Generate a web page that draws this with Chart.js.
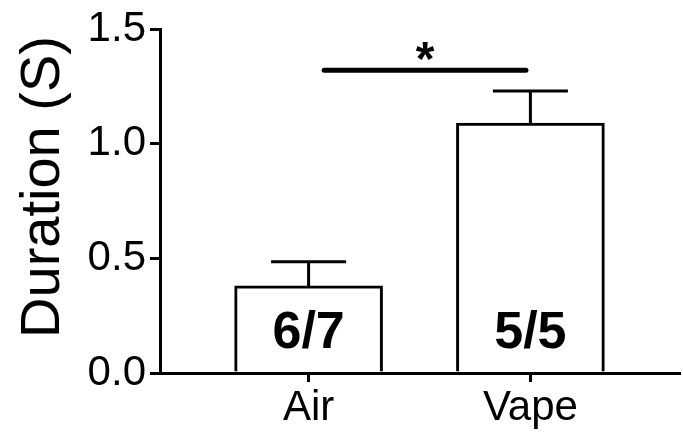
<!DOCTYPE html>
<html>
<head>
<meta charset="utf-8">
<title>Duration</title>
<script src="https://cdn.jsdelivr.net/npm/chart.js@4.4.1/dist/chart.umd.min.js"></script>
<style>
  body { margin: 0; background: #fff; }
  #wrap { width: 683px; height: 435px; }
</style>
</head>
<body>
<div id="wrap"><canvas id="durationChart"></canvas></div>
<script>
// groups and where they sit on the x axis
const groups = ["Air", "Vape"];
const groupPos = [1, 2];
// mean duration (s) and SEM for each group
const means = [0.38, 1.09];
const sems = [0.105, 0.14];
// responders / total, printed inside each bar
const counts = ["6/7", "5/5"];
// y axis ticks and title
const yTicks = [0, 0.5, 1.0, 1.5];
const yTitle = "Duration (S)";
// significance line between the groups
const sigX = [1.07, 1.98];
const sigY = 1.321;
const sigLabel = "*";

const FONT = '"Liberation Sans", Arial, Helvetica, sans-serif';

// error bars, n labels, significance mark and the y title
const extrasPlugin = {
  id: "extras",
  afterDatasetsDraw(chart) {
    const ctx = chart.ctx;
    const xs = chart.scales.x;
    const ys = chart.scales.y;
    ctx.save();
    ctx.strokeStyle = "#000";
    ctx.fillStyle = "#000";
    ctx.lineWidth = 3;

    groupPos.forEach((g, i) => {
      const x = xs.getPixelForValue(g);
      const yTop = ys.getPixelForValue(means[i]);
      const yErr = ys.getPixelForValue(means[i] + sems[i]);
      ctx.beginPath();
      ctx.moveTo(x, yTop);
      ctx.lineTo(x, yErr);
      ctx.moveTo(x - 37.5, yErr);
      ctx.lineTo(x + 37.5, yErr);
      ctx.stroke();

      ctx.font = "bold 52px " + FONT;
      ctx.textAlign = "center";
      ctx.textBaseline = "alphabetic";
      ctx.fillText(counts[i], x, chart.chartArea.bottom - 25);
    });

    // === Significance ===
    const x1 = xs.getPixelForValue(sigX[0]);
    const x2 = xs.getPixelForValue(sigX[1]);
    const y = ys.getPixelForValue(sigY);
    ctx.lineWidth = 5;
    ctx.lineCap = "round";
    ctx.beginPath();
    ctx.moveTo(x1, y);
    ctx.lineTo(x2, y);
    ctx.stroke();

    ctx.font = "bold 48px " + FONT;
    ctx.textAlign = "center";
    ctx.textBaseline = "alphabetic";
    ctx.fillText(sigLabel, (x1 + x2) / 2, y + 5);

    // === Y title (sits a little above the axis middle in the original) ===
    ctx.translate(44, 187);
    ctx.rotate(-Math.PI / 2);
    ctx.font = "56px " + FONT;
    ctx.textBaseline = "middle";
    ctx.fillText(yTitle, 0, 0);
    ctx.restore();
  }
};

const axisGrid = (len) => ({
  display: true,
  drawOnChartArea: false,
  drawTicks: true,
  offset: false,
  tickLength: len,
  lineWidth: 3,
  color: "#000"
});

const ctx = document.getElementById("durationChart").getContext("2d");
new Chart(ctx, {
  type: "bar",
  data: {
    datasets: [{
      data: groupPos.map((x, i) => ({ x: x, y: means[i] })),
      backgroundColor: "#fff",
      borderColor: "#000",
      borderWidth: 3,
      borderSkipped: "start",
      barThickness: 148
    }]
  },
  options: {
    responsive: true,
    maintainAspectRatio: false,
    animation: false,
    events: [],
    layout: { padding: { top: 26, right: 4, left: 0, bottom: 0 } },
    plugins: {
      legend: { display: false },
      tooltip: { enabled: false }
    },
    scales: {
      x: {
        type: "linear",
        offset: false,
        z: 1,
        min: 0.33,
        max: 2.67,
        afterBuildTicks: axis => { axis.ticks = groupPos.map(v => ({ value: v })); },
        afterFit: s => { s.height = 62; },
        ticks: {
          callback: v => groups[groupPos.indexOf(v)],
          font: { family: FONT, size: 42 },
          color: "#000",
          padding: 1,
          maxRotation: 0,
          autoSkip: false
        },
        grid: axisGrid(9),
        border: { display: true, width: 3, color: "#000" }
      },
      y: {
        min: 0,
        max: 1.5,
        afterBuildTicks: axis => { axis.ticks = yTicks.map(v => ({ value: v })); },
        afterFit: s => { s.width = 160; },
        ticks: {
          callback: v => v.toFixed(1),
          font: { family: FONT, size: 42 },
          color: "#000",
          padding: 4
        },
        grid: axisGrid(10),
        border: { display: true, width: 3, color: "#000" }
      }
    }
  },
  plugins: [extrasPlugin]
});
</script>
</body>
</html>
